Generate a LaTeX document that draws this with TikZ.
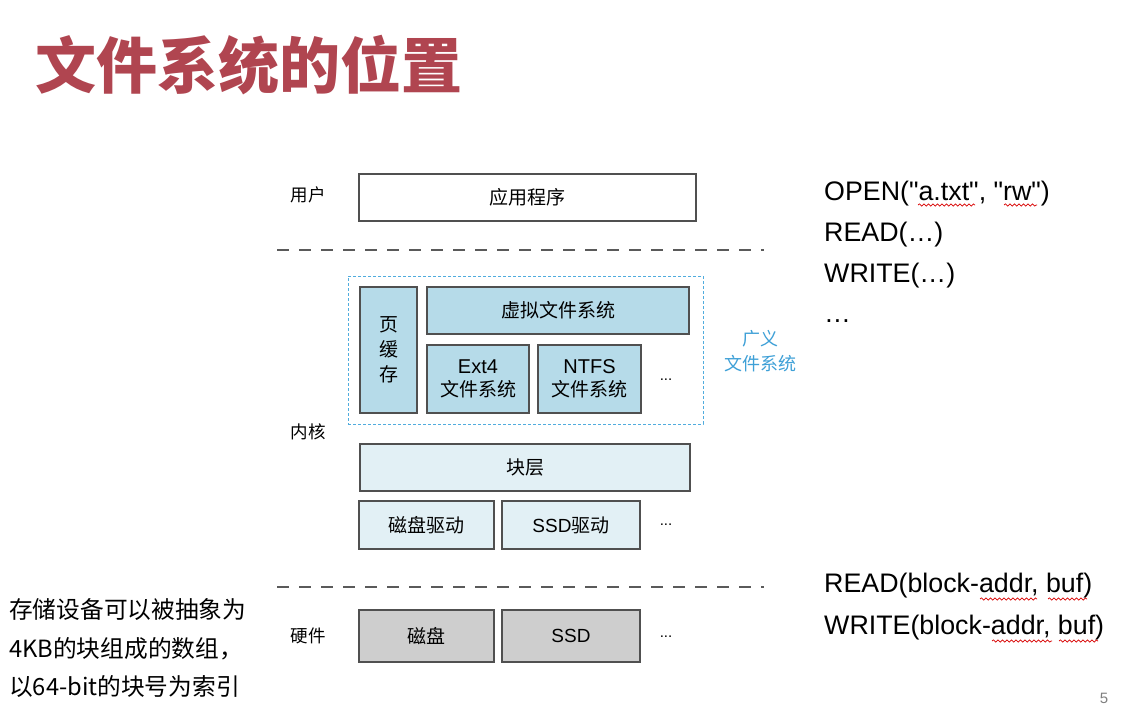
\documentclass[tikz,border=0pt]{standalone}
\usepackage{fontspec}
\setmainfont{Liberation Sans}
\newfontfamily\lat{Liberation Sans}
\newfontfamily\cjk{Noto Sans CJK SC}
\usetikzlibrary{decorations.pathmorphing}
\definecolor{titlered}{RGB}{176,69,80}
\definecolor{vfsblue}{RGB}{182,219,233}
\definecolor{blkblue}{RGB}{226,240,245}
\definecolor{hwgray}{RGB}{206,206,206}
\definecolor{edge}{RGB}{80,80,80}
\definecolor{gfsblue}{RGB}{80,172,222}
\definecolor{gfstext}{RGB}{62,160,215}
\definecolor{sepgray}{RGB}{90,90,90}
\tikzset{
  box/.style={draw=edge, line width=1.2pt, inner sep=0pt, align=center, font=\cjk\fontsize{19}{23}\selectfont},
  vfsbox/.style={box, fill=vfsblue},
  blkbox/.style={box, fill=blkblue},
  hwbox/.style={box, fill=hwgray},
  sidelabel/.style={font=\cjk\fontsize{17.5}{20}\selectfont},
  sepline/.style={draw=sepgray, line width=1.3pt, dash pattern=on 12pt off 10pt},
  apitext/.style={anchor=west, inner sep=0pt, font=\lat\fontsize{26.8}{30}\selectfont},
  squiggle/.style={draw=red!85!black, line width=0.7pt, decorate, decoration={snake, amplitude=1.1pt, segment length=4.5pt}},
  dots/.style={font=\lat\fontsize{15}{18}\selectfont}
}
\begin{document}
\begin{tikzpicture}[x=1pt,y=-1pt]
\useasboundingbox[fill=white] (0,0) rectangle (1136,716);

% title
\node[anchor=west, inner sep=0pt, text=titlered, font=\cjk\bfseries\fontsize{61}{70}\selectfont] (title) at (35,65) {文件系统的位置};

% side labels
\node[sidelabel] (user) at (308,195) {用户};
\node[sidelabel] (kernel) at (308,432) {内核};
\node[sidelabel] (hw) at (308,636) {硬件};

% user
\node[box, fill=white, minimum width=337pt, minimum height=47pt] (app) at (527.5,197.5) {应用程序};

% separators
\coordinate (s1a) at (277,250); \coordinate (s1b) at (764,250);
\coordinate (s2a) at (277,587); \coordinate (s2b) at (764,587);
\draw[sepline] (s1a) -- (s1b);
\draw[sepline] (s2a) -- (s2b);

% generalized file system
\node[draw=gfsblue, line width=1pt, dash pattern=on 3pt off 2pt, minimum width=355pt, minimum height=148pt, inner sep=0pt] (gfs) at (525.5,350) {};
\node[vfsbox, minimum width=57pt, minimum height=126pt, font=\cjk\fontsize{19}{25}\selectfont] (pc) at (388.5,350) {页\\缓\\存};
\node[vfsbox, minimum width=262pt, minimum height=47pt] (vfs) at (558,310.5) {虚拟文件系统};
\node[vfsbox, minimum width=102pt, minimum height=68pt] (ext4) at (478,379) {{\lat\fontsize{20}{24}\selectfont Ext4}\\{\cjk\fontsize{19}{24}\selectfont 文件系统}};
\node[vfsbox, minimum width=103pt, minimum height=68pt] (ntfs) at (589.5,379) {{\lat\fontsize{20}{24}\selectfont NTFS}\\{\cjk\fontsize{19}{24}\selectfont 文件系统}};
\node[dots] (d1) at (666,380) {...};
\node[text=gfstext, align=center, font=\cjk\fontsize{18}{25}\selectfont] (gfslabel) at (760,351) {广义\\文件系统};

% block layer and drivers
\node[blkbox, minimum width=330pt, minimum height=47pt] (blk) at (525,467.5) {块层};
\node[blkbox, minimum width=135pt, minimum height=48pt] (diskdrv) at (426.5,525) {磁盘驱动};
\node[blkbox, minimum width=138pt, minimum height=48pt] (ssddrv) at (571,525) {{\lat\fontsize{19}{23}\selectfont SSD}驱动};
\node[dots] (d2) at (666,525) {...};

% hardware
\node[hwbox, minimum width=135pt, minimum height=52pt] (disk) at (426.5,636) {磁盘};
\node[hwbox, minimum width=138pt, minimum height=52pt, font=\lat\fontsize{19}{23}\selectfont] (ssd) at (571,636) {SSD};
\node[dots] (d3) at (666,637) {...};

% API text
\node[apitext] (open) at (824,194) {OPEN("a.txt", "rw")};
\node[apitext] (read) at (824,235) {READ(\char"2026)};
\node[apitext] (write) at (824,276) {WRITE(\char"2026)};
\node[apitext] (more) at (824,321) {\char"2026};
\node[apitext] (bread) at (824,586) {READ(block-addr, buf)};
\node[apitext] (bwrite) at (824,628) {WRITE(block-addr, buf)};

% spell-check squiggles
\coordinate (q1a) at (918,205); \coordinate (q1b) at (975,205);
\coordinate (q2a) at (1004,205); \coordinate (q2b) at (1037,205);
\coordinate (q3a) at (980,599); \coordinate (q3b) at (1037,599);
\coordinate (q4a) at (1048,599); \coordinate (q4b) at (1087,599);
\coordinate (q5a) at (992,641); \coordinate (q5b) at (1052,641);
\coordinate (q6a) at (1059,641); \coordinate (q6b) at (1098,641);
\draw[squiggle] (q1a) -- (q1b);
\draw[squiggle] (q2a) -- (q2b);
\draw[squiggle] (q3a) -- (q3b);
\draw[squiggle] (q4a) -- (q4b);
\draw[squiggle] (q5a) -- (q5b);
\draw[squiggle] (q6a) -- (q6b);

% left note
\node[anchor=west, inner sep=0pt, align=left, font=\cjk\fontsize{23.7}{38.5}\selectfont] (note) at (9,648.5) {存储设备可以被抽象为\\4KB的块组成的数组，\\以64-bit的块号为索引};

% page number
\node[text=gray, font=\lat\fontsize{15}{18}\selectfont] (page) at (1104,698) {5};
\end{tikzpicture}
\end{document}
